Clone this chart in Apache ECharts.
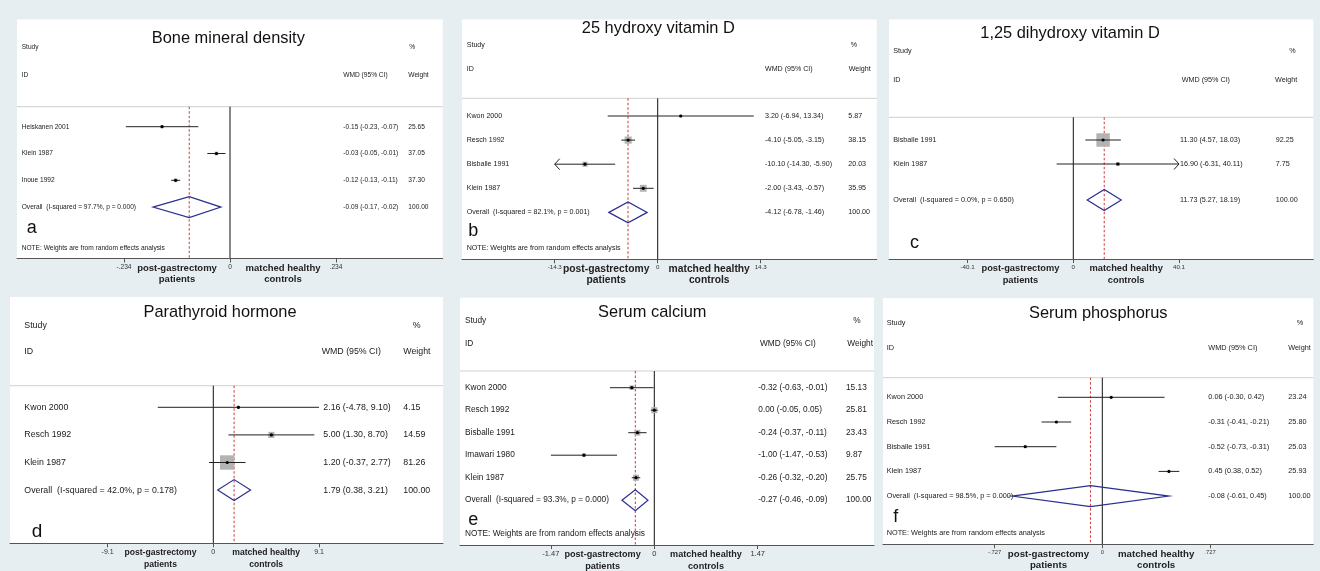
<!DOCTYPE html>
<html><head><meta charset="utf-8">
<script src="https://cdn.jsdelivr.net/npm/echarts@6/dist/echarts.min.js"></script>
<style>html,body{margin:0;padding:0;background:#e7eef2}#c{width:1320px;height:571px}</style>
</head><body><div id="c"></div>
<script>
// ---------------- data ----------------
const bmdStudies = ['Heiskanen 2001', 'Klein 1987', 'Inoue 1992'];
const bmdEst = [-0.15, -0.03, -0.12];
const bmdLo = [-0.23, -0.05, -0.13];
const bmdHi = [-0.07, -0.01, -0.11];
const bmdWeight = [25.65, 37.05, 37.30];
const bmdArrows = ['', '', ''];
const bmdOverall = [-0.09, -0.17, -0.02];
const bmdHet = [97.7, 0.000];
const bmdTicks = [-0.234, 0, 0.234];
const bmdTickLabels = ['-.234', '0', '.234'];

const vdStudies = ['Kwon 2000', 'Resch 1992', 'Bisballe 1991', 'Klein 1987'];
const vdEst = [3.20, -4.10, -10.10, -2.00];
const vdLo = [-6.94, -5.05, -14.30, -3.43];
const vdHi = [13.34, -3.15, -5.90, -0.57];
const vdWeight = [5.87, 38.15, 20.03, 35.95];
const vdArrows = ['', '', 'left', ''];
const vdOverall = [-4.12, -6.78, -1.46];
const vdHet = [82.1, 0.001];
const vdTicks = [-14.3, 0, 14.3];
const vdTickLabels = ['-14.3', '0', '14.3'];

const dhStudies = ['Bisballe 1991', 'Klein 1987'];
const dhEst = [11.30, 16.90];
const dhLo = [4.57, -6.31];
const dhHi = [18.03, 40.11];
const dhWeight = [92.25, 7.75];
const dhArrows = ['', 'right'];
const dhOverall = [11.73, 5.27, 18.19];
const dhHet = [0.0, 0.650];
const dhTicks = [-40.1, 0, 40.1];
const dhTickLabels = ['-40.1', '0', '40.1'];

const pthStudies = ['Kwon 2000', 'Resch 1992', 'Klein 1987'];
const pthEst = [2.16, 5.00, 1.20];
const pthLo = [-4.78, 1.30, -0.37];
const pthHi = [9.10, 8.70, 2.77];
const pthWeight = [4.15, 14.59, 81.26];
const pthArrows = ['', '', ''];
const pthOverall = [1.79, 0.38, 3.21];
const pthHet = [42.0, 0.178];
const pthTicks = [-9.1, 0, 9.1];
const pthTickLabels = ['-9.1', '0', '9.1'];

const caStudies = ['Kwon 2000', 'Resch 1992', 'Bisballe 1991', 'Imawari 1980', 'Klein 1987'];
const caEst = [-0.32, 0.00, -0.24, -1.00, -0.26];
const caLo = [-0.63, -0.05, -0.37, -1.47, -0.32];
const caHi = [-0.01, 0.05, -0.11, -0.53, -0.20];
const caWeight = [15.13, 25.81, 23.43, 9.87, 25.75];
const caArrows = ['', '', '', '', ''];
const caOverall = [-0.27, -0.46, -0.09];
const caHet = [93.3, 0.000];
const caTicks = [-1.47, 0, 1.47];
const caTickLabels = ['-1.47', '0', '1.47'];

const phStudies = ['Kwon 2000', 'Resch 1992', 'Bisballe 1991', 'Klein 1987'];
const phEst = [0.06, -0.31, -0.52, 0.45];
const phLo = [-0.30, -0.41, -0.73, 0.38];
const phHi = [0.42, -0.21, -0.31, 0.52];
const phWeight = [23.24, 25.80, 25.03, 25.93];
const phArrows = ['', '', '', ''];
const phOverall = [-0.08, -0.61, 0.45];
const phHet = [98.5, 0.000];
const phTicks = [-0.727, 0, 0.727];
const phTickLabels = ['-.727', '0', '.727'];

const titles = ['Bone mineral density', '25 hydroxy vitamin D', '1,25 dihydroxy vitamin D',
                'Parathyroid hormone', 'Serum calcium', 'Serum phosphorus'];
const letters = ['a', 'b', 'c', 'd', 'e', 'f'];
const favourLeft = 'post-gastrectomy\npatients';
const favourRight = 'matched healthy\ncontrols';
const noteText = 'NOTE: Weights are from random effects analysis';

// ---------------- layout (pixels) ----------------
const FONT = "'Liberation Sans', Arial, Helvetica, sans-serif";
const layouts = [
  {left:17, right:442.7, top:19.5, sep:106.7, axis:258.5, x0:230, xt:336, firstRow:126.7, rowGap:26.8, gap:0,
   font:6.6, title:[228.3,38.3], study:[21.7,46.7], id:[21.7,75], pct:[409.3,46.7], wmdHead:[343.3,75], wHead:[408.3,75],
   nameX:21.7, wmdX:343.3, wX:408.3, letter:[26.7,228.3], letterSize:18, note:[21.7,247.7], boxK:0.6, favFont:9.5, tickFont:6.6},
  {left:462, right:876.7, top:19.5, sep:98.3, axis:259.3, x0:657.7, xt:760.7, firstRow:116, rowGap:24.1, gap:0,
   font:7.1, title:[658.3,28.3], study:[466.7,45], id:[466.7,69], pct:[850.7,45], wmdHead:[765,69], wHead:[848.7,69],
   nameX:466.7, wmdX:765, wX:848.3, letter:[468.3,231], letterSize:18, note:[466.7,248.3], boxK:1.15, favFont:10.3, tickFont:6.2},
  {left:889, right:1313.3, top:19.5, sep:117.3, axis:259, x0:1073.3, xt:1179, firstRow:140, rowGap:24, gap:0.5,
   font:7.2, title:[1070,33.3], study:[893.3,51], id:[893.3,80], pct:[1289.3,51], wmdHead:[1181.7,80], wHead:[1275,80],
   nameX:893.3, wmdX:1180, wX:1275.7, letter:[910,243.3], letterSize:18, note:null, boxK:1.4, favFont:9.3, tickFont:6.2},
  {left:10, right:443, top:297, sep:385.7, axis:543.3, x0:213.3, xt:319, firstRow:407.3, rowGap:27.6, gap:0,
   font:8.8, title:[220,312.3], study:[24.3,325.7], id:[24.3,351.7], pct:[412.7,325.7], wmdHead:[321.7,351.7], wHead:[403.3,351.7],
   nameX:24.3, wmdX:323.3, wX:403.3, letter:[31.7,531.7], letterSize:19, note:null, boxK:1.6, favFont:8.6, tickFont:7},
  {left:460, right:874, top:297.7, sep:371, axis:545, x0:654.3, xt:757.7, firstRow:387.7, rowGap:22.5, gap:0,
   font:8.3, title:[652.3,312.3], study:[465,321], id:[465,343.3], pct:[853.3,321], wmdHead:[760,343.3], wHead:[847.3,343.3],
   nameX:465, wmdX:758.3, wX:846, letter:[468.3,520], letterSize:18, note:[465,534], boxK:1.2, favFont:9.1, tickFont:7.5},
  {left:883, right:1313.3, top:298.3, sep:377.7, axis:544.3, x0:1102.3, xt:1210, firstRow:397.3, rowGap:24.7, gap:0,
   font:7.3, title:[1098.3,313.3], study:[886.7,323.3], id:[886.7,348.3], pct:[1296.7,323.3], wmdHead:[1208.3,348.3], wHead:[1288.3,348.3],
   nameX:886.7, wmdX:1208.3, wX:1288.3, letter:[893.3,516.7], letterSize:18, note:[886.7,533.3], boxK:0.45, favFont:9.7, tickFont:5.8}
];

const panels = [
  {studies:bmdStudies, est:bmdEst, lo:bmdLo, hi:bmdHi, weight:bmdWeight, arrows:bmdArrows, overall:bmdOverall, het:bmdHet, ticks:bmdTicks, tickLabels:bmdTickLabels},
  {studies:vdStudies, est:vdEst, lo:vdLo, hi:vdHi, weight:vdWeight, arrows:vdArrows, overall:vdOverall, het:vdHet, ticks:vdTicks, tickLabels:vdTickLabels},
  {studies:dhStudies, est:dhEst, lo:dhLo, hi:dhHi, weight:dhWeight, arrows:dhArrows, overall:dhOverall, het:dhHet, ticks:dhTicks, tickLabels:dhTickLabels},
  {studies:pthStudies, est:pthEst, lo:pthLo, hi:pthHi, weight:pthWeight, arrows:pthArrows, overall:pthOverall, het:pthHet, ticks:pthTicks, tickLabels:pthTickLabels},
  {studies:caStudies, est:caEst, lo:caLo, hi:caHi, weight:caWeight, arrows:caArrows, overall:caOverall, het:caHet, ticks:caTicks, tickLabels:caTickLabels},
  {studies:phStudies, est:phEst, lo:phLo, hi:phHi, weight:phWeight, arrows:phArrows, overall:phOverall, het:phHet, ticks:phTicks, tickLabels:phTickLabels}
];

const f2 = v => (Math.abs(v) < 0.0005 ? 0 : v).toFixed(2);
const wmdStr = (e, l, h) => `${f2(e)} (${f2(l)}, ${f2(h)})`;

const grid = [], xAxis = [], yAxis = [], series = [], graphic = [];
const TXT = '#1a1a1a';

panels.forEach((p, i) => {
  const L = layouts[i];
  const tick = p.ticks[2];
  const unit = (L.xt - L.x0) / tick;
  grid.push({left: L.left, top: L.sep, width: L.right - L.left, height: L.axis - L.sep});
  xAxis.push({
    gridIndex: i, type: 'value', z: 3,
    min: (L.left - L.x0) / unit, max: (L.right - L.x0) / unit,
    splitLine: {show: false},
    axisLine: {show: true, onZero: false, lineStyle: {color: '#555', width: 1}},
    axisTick: {show: true, customValues: p.ticks, length: 4, inside: false, lineStyle: {color: '#555'}},
    axisLabel: {show: true, customValues: p.ticks, margin: 5, fontSize: L.tickFont, fontFamily: FONT, color: '#333',
      formatter: v => { const k = p.ticks.findIndex(t => Math.abs(t - v) < 1e-9); return k >= 0 ? p.tickLabels[k] : ''; }}
  });
  const ymin = 1 - (L.firstRow - L.sep) / L.rowGap;
  yAxis.push({gridIndex: i, type: 'value', inverse: true, show: false,
    min: ymin, max: ymin + (L.axis - L.sep) / L.rowGap});

  // panel background, separator, headings
  graphic.push({type: 'rect', z: 0, shape: {x: L.left, y: L.top, width: L.right - L.left, height: L.axis - L.top}, style: {fill: '#ffffff'}});
  graphic.push({type: 'line', z: 1, shape: {x1: L.left, y1: L.sep, x2: L.right, y2: L.sep}, style: {stroke: '#cfcfcf', lineWidth: 1}});
  const txt = (s, pos, size, align, extra) => graphic.push({type: 'text', z: 5, x: pos[0], y: pos[1],
    style: Object.assign({text: s, fill: TXT, fontSize: size, fontFamily: FONT, align: align || 'left', verticalAlign: 'middle'}, extra || {})});
  txt(titles[i], L.title, 16.4, 'center', {fill: '#111'});
  txt('Study', L.study, L.font);
  txt('ID', L.id, L.font);
  txt('%', L.pct, L.font);
  txt('WMD (95% CI)', L.wmdHead, L.font);
  txt('Weight', L.wHead, L.font);
  txt(letters[i], L.letter, L.letterSize, 'left', {fill: '#111'});
  if (L.note) txt(noteText, L.note, L.font);

  const n = p.studies.length;
  // individual studies
  series.push({
    type: 'custom', xAxisIndex: i, yAxisIndex: i, clip: false, silent: true, z: 4,
    encode: {x: 1, y: 0},
    data: p.studies.map((s, k) => [k + 1, p.est[k], p.lo[k], p.hi[k], p.weight[k]]),
    renderItem: (params, api) => {
      const k = params.dataIndex;
      const row = api.value(0), est = api.value(1), lo = api.value(2), hi = api.value(3), w = api.value(4);
      const pe = api.coord([est, row]);
      const pl = api.coord([Math.max(lo, -tick), row]);
      const ph = api.coord([Math.min(hi, tick), row]);
      const y = pe[1];
      const s = L.boxK * Math.sqrt(w);
      const ch = [];
      ch.push({type: 'rect', shape: {x: pe[0] - s / 2, y: y - s / 2, width: s, height: s}, style: {fill: '#b3b3b3'}});
      ch.push({type: 'line', shape: {x1: pl[0], y1: y, x2: ph[0], y2: y}, style: {stroke: '#222', lineWidth: 1}});
      ch.push({type: 'circle', shape: {cx: pe[0], cy: y, r: 1.6}, style: {fill: '#000'}});
      if (p.arrows[k] === 'left') ch.push({type: 'polyline', shape: {points: [[pl[0] + 5, y - 5.5], [pl[0], y], [pl[0] + 5, y + 5.5]]}, style: {stroke: '#222', fill: null, lineWidth: 1}});
      if (p.arrows[k] === 'right') ch.push({type: 'polyline', shape: {points: [[ph[0] - 5, y - 5.5], [ph[0], y], [ph[0] - 5, y + 5.5]]}, style: {stroke: '#222', fill: null, lineWidth: 1}});
      const t = (str, x) => ({type: 'text', style: {text: str, x: x, y: y, fill: TXT, fontSize: L.font, fontFamily: FONT, align: 'left', verticalAlign: 'middle'}});
      ch.push(t(p.studies[k], L.nameX));
      ch.push(t(wmdStr(est, lo, hi), L.wmdX));
      ch.push(t(f2(w), L.wX));
      return {type: 'group', children: ch};
    }
  });
  // overall, reference lines, favour labels
  series.push({
    type: 'custom', xAxisIndex: i, yAxisIndex: i, clip: false, silent: true, z: 3,
    encode: {x: 1, y: 0},
    data: [[n + 1 + L.gap, p.overall[0], p.overall[1], p.overall[2], 100]],
    renderItem: (params, api) => {
      const cs = params.coordSys;
      const row = api.value(0), est = api.value(1), lo = api.value(2), hi = api.value(3);
      const pe = api.coord([est, row]), pl = api.coord([lo, row]), ph = api.coord([hi, row]);
      const p0 = api.coord([0, row]);
      const y = pe[1], h = 10.5;
      const ch = [];
      ch.push({type: 'line', shape: {x1: p0[0], y1: cs.y, x2: p0[0], y2: cs.y + cs.height}, style: {stroke: '#111', lineWidth: 1}});
      ch.push({type: 'line', shape: {x1: pe[0], y1: cs.y, x2: pe[0], y2: cs.y + cs.height}, style: {stroke: '#cc3a3a', lineWidth: 1, lineDash: [2.5, 2]}});
      ch.push({type: 'polygon', shape: {points: [[pl[0], y], [pe[0], y - h], [ph[0], y], [pe[0], y + h]]}, style: {stroke: '#2b2f8f', fill: null, lineWidth: 1.2}});
      const t = (str, x) => ({type: 'text', style: {text: str, x: x, y: y, fill: TXT, fontSize: L.font, fontFamily: FONT, align: 'left', verticalAlign: 'middle'}});
      ch.push(t(`Overall  (I-squared = ${p.het[0].toFixed(1)}%, p = ${p.het[1].toFixed(3)})`, L.nameX));
      ch.push(t(wmdStr(est, lo, hi), L.wmdX));
      ch.push(t(f2(api.value(4)), L.wX));
      const fy = cs.y + cs.height + 4;
      const fl = api.coord([-tick / 2, row])[0], fr = api.coord([tick / 2, row])[0];
      const fav = (str, x) => ({type: 'text', style: {text: str, x: x, y: fy, fill: '#222', fontSize: L.favFont, fontWeight: 'bold', fontFamily: FONT, align: 'center', verticalAlign: 'top', lineHeight: 11.5}});
      ch.push(fav(favourLeft, fl));
      ch.push(fav(favourRight, fr));
      return {type: 'group', children: ch};
    }
  });
});

const chart = echarts.init(document.getElementById('c'), null, {renderer: 'canvas'});
chart.setOption({
  backgroundColor: '#e7eef2',
  animation: false,
  grid, xAxis, yAxis, series, graphic
});
</script></body></html>
